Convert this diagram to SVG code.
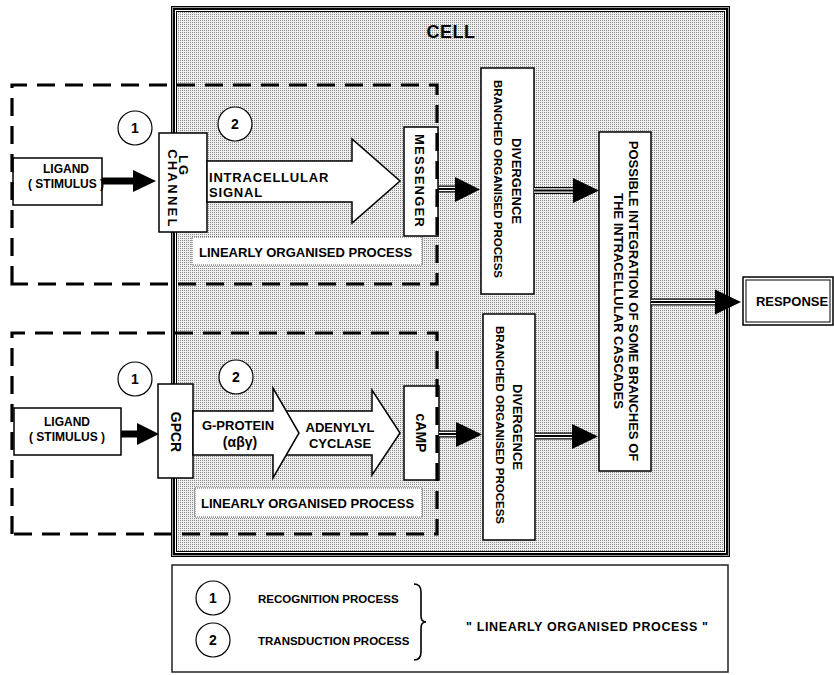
<svg xmlns="http://www.w3.org/2000/svg" width="834" height="675" viewBox="0 0 834 675">
  <style>
    text { font-family: "Liberation Sans", Arial, sans-serif; font-weight: bold; fill: #000; }
    .box { fill: #fff; stroke: #000; stroke-width: 1.5; }
    .num { fill: #fff; stroke: #000; stroke-width: 1.2; }
    .dash { fill: none; stroke: #000; stroke-width: 3.2; stroke-dasharray: 18 10; }
    .dotted { fill: #fff; stroke: #555; stroke-width: 1; stroke-dasharray: 1 1; }
    .hollow { fill: #fff; stroke: #000; stroke-width: 1.5; stroke-linejoin: miter; }
    .shaft { stroke: #000; stroke-width: 7; }
    .gap { stroke: #fff; stroke-width: 1.2; }
    .head { fill: #000; }
    .t13 { font-size: 13px; }
    .t12 { font-size: 12px; }
    .mid { text-anchor: middle; }
  </style>
  <defs>
    <pattern id="stipple" width="2" height="2" patternUnits="userSpaceOnUse">
      <rect width="2" height="2" fill="#efefef"/>
      <rect width="1" height="1" fill="#8a8a8a"/>
    </pattern>
  </defs>

  <rect width="834" height="675" fill="#fff"/>

  <!-- cell compartment with layered border -->
  <g id="cell">
    <rect x="171" y="6" width="559" height="551" fill="#000"/>
    <rect x="172" y="7" width="557" height="549" fill="#999"/>
    <rect x="173" y="8" width="555" height="547" fill="#000"/>
    <rect x="175" y="10" width="551" height="543" fill="#fff"/>
    <rect x="176" y="11" width="549" height="541" fill="#000"/>
    <rect x="177" y="12" width="547" height="539" fill="url(#stipple)"/>
    <text x="451" y="38" class="mid" font-size="18" letter-spacing="0.5">CELL</text>
  </g>

  <!-- upper pathway -->
  <g id="ligand-top">
    <rect class="box" x="13" y="158" width="89" height="47"/>
    <text x="66" y="173" class="mid t12">LIGAND</text>
    <text x="66" y="188" class="mid t12">( STIMULUS )</text>
  </g>
  <g id="recog-top">
    <circle class="num" cx="135" cy="128" r="17"/>
    <text x="135" y="133" class="mid" font-size="14">1</text>
  </g>
  <g id="trans-top">
    <circle class="num" cx="235" cy="124" r="17"/>
    <text x="235" y="129" class="mid" font-size="14">2</text>
  </g>
  <g id="lg-channel">
    <rect class="box" x="159" y="133" width="48" height="99"/>
    <text x="179" y="166" class="mid t13" transform="rotate(90 179 166)" letter-spacing="2">LG</text>
    <text x="167.5" y="189" class="mid t13" transform="rotate(90 167.5 189)" letter-spacing="2.3">CHANNEL</text>
  </g>
  <g id="messenger">
    <rect class="box" x="404" y="127" width="34" height="109"/>
    <text x="414.5" y="181" class="mid t13" transform="rotate(90 414.5 181)" letter-spacing="1.2">MESSENGER</text>
  </g>
  <g id="linear-top">
    <rect class="dotted" x="192" y="237" width="230" height="28"/>
    <text x="199" y="257" class="t13">LINEARLY ORGANISED PROCESS</text>
  </g>
  <g id="divergence-top">
    <rect class="box" x="481" y="68" width="53" height="226"/>
    <text x="511.5" y="181" class="mid t13" transform="rotate(90 511.5 181)">DIVERGENCE</text>
    <text x="494" y="179" class="mid" font-size="11.5" transform="rotate(90 494 179)">BRANCHED ORGANISED PROCESS</text>
  </g>

  <!-- lower pathway -->
  <g id="ligand-bottom">
    <rect class="box" x="14" y="408" width="107" height="47"/>
    <text x="67" y="426" class="mid t12">LIGAND</text>
    <text x="67" y="441" class="mid t12">( STIMULUS )</text>
  </g>
  <g id="recog-bottom">
    <circle class="num" cx="135" cy="379" r="17"/>
    <text x="135" y="384" class="mid" font-size="14">1</text>
  </g>
  <g id="trans-bottom">
    <circle class="num" cx="236" cy="377" r="17"/>
    <text x="236" y="382" class="mid" font-size="14">2</text>
  </g>
  <g id="gpcr">
    <rect class="box" x="158" y="384" width="35" height="94"/>
    <text x="170.5" y="432" class="mid" font-size="14" transform="rotate(90 170.5 432)">GPCR</text>
  </g>
  <g id="camp">
    <rect class="box" x="404" y="386" width="35" height="94"/>
    <text x="415.5" y="433" class="mid" font-size="14" transform="rotate(90 415.5 433)">cAMP</text>
  </g>
  <g id="linear-bottom">
    <rect class="dotted" x="195" y="488" width="227" height="29"/>
    <text x="201" y="508" class="t13">LINEARLY ORGANISED PROCESS</text>
  </g>
  <g id="divergence-bottom">
    <rect class="box" x="483" y="314" width="52" height="226"/>
    <text x="513" y="427" class="mid t13" transform="rotate(90 513 427)">DIVERGENCE</text>
    <text x="495.5" y="425" class="mid" font-size="11.5" transform="rotate(90 495.5 425)">BRANCHED ORGANISED PROCESS</text>
  </g>

  <!-- convergence and output -->
  <g id="integration">
    <rect class="box" x="599" y="132" width="52" height="339"/>
    <text x="628.5" y="301" class="mid t13" transform="rotate(90 628.5 301)">POSSIBLE INTEGRATION OF SOME BRANCHES OF</text>
    <text x="613.5" y="301" class="mid t13" transform="rotate(90 613.5 301)">THE INTRACELLULAR CASCADES</text>
  </g>
  <g id="response">
    <rect x="743" y="277" width="90" height="48" fill="#fff" stroke="#000" stroke-width="1.5"/>
    <rect x="746" y="280" width="84" height="42" fill="none" stroke="#000" stroke-width="1"/>
    <text x="792" y="306" class="mid t13">RESPONSE</text>
  </g>

  <!-- recognition / transduction regions -->
  <g id="regions">
    <path class="dash" d="M12 284 V85 H437 V284 Z"/>
    <path class="dash" d="M12 534 V333 H437 V534 Z"/>
  </g>

  <!-- connectors -->
  <g id="connectors">
    <!-- ligand binding -->
    <line class="shaft" x1="102" y1="181" x2="136" y2="181"/>
    <polygon class="head" points="133,170 156,181 133,192"/>
    <line class="shaft" x1="121" y1="434" x2="140" y2="434"/>
    <polygon class="head" points="137,423 159,434 137,445"/>

    <!-- transduction arrows -->
    <polygon class="hollow" points="207,161 352,161 352,139 400,181 352,223 352,202 207,202"/>
    <text x="209" y="182" class="t13" letter-spacing="0.8">INTRACELLULAR</text>
    <text x="209" y="197" class="t13" letter-spacing="0.8">SIGNAL</text>

    <polygon class="hollow" points="285,411 372,411 372,390 400,433 372,475 372,455 285,455"/>
    <polygon class="hollow" points="193,411 273,411 273,388 299,433 273,478 273,455 193,455"/>
    <text x="238" y="430" class="mid t13">G-PROTEIN</text>
    <text x="240" y="447" class="mid" font-size="14">(αβγ)</text>
    <text x="340" y="432" class="mid t13">ADENYLYL</text>
    <text x="340" y="448" class="mid t13">CYCLASE</text>

    <!-- triple-line arrows -->
    <line class="shaft" x1="439" y1="189" x2="457" y2="189"/>
    <line class="gap" x1="439" y1="187.4" x2="456" y2="187.4"/>
    <line class="gap" x1="439" y1="190.6" x2="456" y2="190.6"/>
    <polygon class="head" points="455,177 480,189.5 455,202"/>

    <line class="shaft" x1="534" y1="190.5" x2="575" y2="190.5"/>
    <line class="gap" x1="534" y1="188.9" x2="574" y2="188.9"/>
    <line class="gap" x1="534" y1="192.1" x2="574" y2="192.1"/>
    <polygon class="head" points="573,178 599,190.5 573,203"/>

    <line class="shaft" x1="439" y1="434" x2="457" y2="434"/>
    <line class="gap" x1="439" y1="432.4" x2="456" y2="432.4"/>
    <line class="gap" x1="439" y1="435.6" x2="456" y2="435.6"/>
    <polygon class="head" points="456,422 482,434.5 456,447"/>

    <line class="shaft" x1="535" y1="436" x2="574" y2="436"/>
    <line class="gap" x1="535" y1="434.4" x2="573" y2="434.4"/>
    <line class="gap" x1="535" y1="437.6" x2="573" y2="437.6"/>
    <polygon class="head" points="572,424 598,436.5 572,449"/>

    <line class="shaft" x1="651" y1="302" x2="717" y2="302"/>
    <line class="gap" x1="651" y1="300.4" x2="716" y2="300.4"/>
    <line class="gap" x1="651" y1="303.6" x2="716" y2="303.6"/>
    <polygon class="head" points="715,289.5 741,302 715,314.5"/>
  </g>

  <!-- legend -->
  <g id="legend">
    <rect x="172" y="565" width="556" height="107" fill="#fff" stroke="#222" stroke-width="1.5"/>
    <circle class="num" cx="213" cy="598" r="17"/>
    <text x="213" y="603" class="mid" font-size="14">1</text>
    <circle class="num" cx="213" cy="640" r="17"/>
    <text x="213" y="645" class="mid" font-size="14">2</text>
    <text x="258" y="603" font-size="11.5">RECOGNITION PROCESS</text>
    <text x="258" y="645" font-size="11.5">TRANSDUCTION PROCESS</text>
    <path d="M414 584 Q421 584 421 592 V616 Q421 622 426 622 Q421 622 421 628 V652 Q421 660 414 660" fill="none" stroke="#000" stroke-width="1.6"/>
    <text x="466" y="631" font-size="12.5" textLength="242" lengthAdjust="spacing">"  LINEARLY ORGANISED PROCESS  "</text>
  </g>
</svg>
